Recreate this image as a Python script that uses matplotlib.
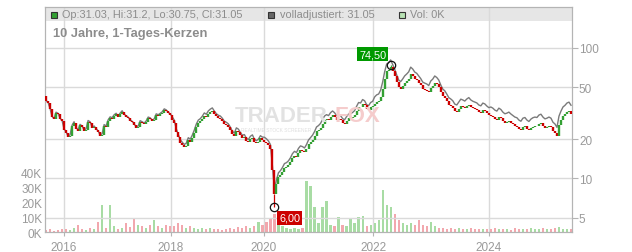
import numpy as np
import matplotlib.pyplot as plt
from matplotlib.patches import Rectangle

plt.rcParams['font.family'] = ['Liberation Sans', 'DejaVu Sans']

# Schlusskurse, ein Wert je Kerze (gleichmäßig über den Chart verteilt)
close = [39.2, 37.8, 34.0, 29.5, 28.5, 31.8, 31.2, 28.6, 27.5, 23.5,
         22.3, 20.6, 21.1, 25.0, 26.6, 24.0, 23.1, 25.4, 24.7, 22.9,
         23.5, 27.2, 26.6, 24.1, 24.7, 23.6, 22.7, 21.0, 21.5, 25.3,
         24.7, 27.5, 29.0, 28.6, 30.1, 30.9, 29.5, 31.0, 32.3, 30.5,
         29.5, 28.9, 27.5, 26.8, 25.6, 24.3, 24.7, 27.1, 26.6, 26.0,
         27.0, 28.9, 28.5, 27.4, 28.0, 30.6, 30.1, 30.9, 31.7, 33.4,
         32.8, 31.5, 30.6, 28.2, 26.6, 22.8, 20.7, 18.8, 18.0, 17.3,
         17.7, 19.5, 19.0, 20.4, 22.3, 24.8, 26.6, 27.3, 28.5, 30.2,
         29.5, 31.3, 32.3, 33.0, 31.2, 29.8, 29.0, 28.6, 27.5, 26.1,
         25.6, 24.9, 23.5, 21.9, 21.1, 23.2, 22.7, 21.4, 20.4, 20.6,
         19.3, 18.9, 20.0, 20.5, 19.0, 18.5, 19.0, 20.2, 19.7, 19.1,
         18.6, 17.9, 16.8, 11.5, 7.6, 9.0, 10.2, 10.6, 11.2, 12.0,
         12.2, 12.6, 13.3, 14.3, 14.9, 14.6, 15.7, 16.4, 16.2, 15.8,
         16.8, 18.2, 19.0, 19.8, 21.1, 22.9, 23.5, 24.4, 26.1, 27.8,
         28.5, 28.0, 29.5, 30.4, 29.5, 28.0, 28.5, 28.0, 26.6, 26.0,
         27.5, 28.8, 29.0, 29.6, 30.6, 33.0, 35.3, 35.0, 37.2, 36.4,
         34.0, 33.4, 35.3, 36.0, 37.2, 38.6, 39.2, 42.0, 48.4, 58.0,
         66.6, 68.0, 71.6, 66.0, 60.8, 55.0, 50.2, 48.8, 51.1, 54.0,
         55.8, 58.0, 63.0, 61.0, 57.8, 56.5, 53.9, 51.5, 48.4, 47.5,
         46.8, 45.5, 49.3, 51.0, 53.9, 52.5, 50.2, 46.0, 42.8, 41.5,
         39.2, 36.8, 35.9, 34.8, 32.8, 32.3, 34.0, 35.8, 35.3, 34.6,
         35.9, 36.8, 35.3, 34.5, 34.0, 33.5, 32.3, 31.8, 33.4, 32.9,
         31.7, 30.8, 30.1, 29.5, 28.5, 28.0, 29.5, 28.8, 27.5, 26.7,
         27.0, 27.5, 26.6, 25.9, 25.2, 24.9, 23.9, 23.4, 24.7, 25.0,
         23.9, 23.3, 24.3, 24.9, 25.2, 25.0, 26.1, 26.5, 25.2, 24.4,
         24.7, 25.2, 24.7, 23.0, 22.3, 21.0, 25.6, 28.0, 30.1, 31.0,
         32.3, 32.8, 31.05]
first_open = 43.0

# Volumen in Tausend, ein Balken je zweiter Kerze
volume = [1.5, 2, 1, 1.5, 2.5, 2, 1.5, 3, 5, 2,
          1.5, 3, 2.5, 7, 18, 3, 18, 4, 2, 3,
          6, 3.5, 9.5, 5, 4, 3, 5, 8, 4, 3,
          5, 4, 4.5, 6, 5, 3, 4, 3, 2.5, 3,
          2, 3, 2, 2.5, 1.5, 2, 3, 2.5, 3.5, 3,
          4, 3, 4, 7, 5, 7, 9, 12, 6, 4,
          3, 2.5, 3, 2, 3, 34, 31, 17, 6, 17,
          21, 5, 4, 10, 5, 4, 9, 6, 10, 11,
          4, 5, 6, 8, 28, 18, 17, 12, 8, 6,
          5, 6, 5, 8, 5, 4, 7, 4, 3, 3,
          2.5, 3, 2, 3, 2.5, 2, 3, 2, 2.5, 2,
          2, 2.5, 3, 2, 2.5, 2, 1.5, 3, 2, 2.5,
          2, 3, 2.5, 2, 3, 2.5, 2, 3, 3.5, 2.5,
          2, 2]

# Jahres-Ticks (Kerzenindex) und Verhältnis volladjustiert/Schluss je Abschnitt
year_labels = ['2016', '2018', '2020', '2022', '2024']
year_pos = [9.0, 62.4, 108.8, 163.2, 221.1]
adj_ratio = [1.01, 1.02, 1.05, 1.08, 1.13, 1.17]

price_ticks = [5, 10, 20, 50, 100]
vol_ticks = [0, 10, 20, 30, 40]

hi_idx, hi_val = 172, 74.50
lo_idx, lo_val = 114, 6.00

close = np.array(close)
n = len(close)
opens = np.concatenate([[first_open], close[:-1]])
idx = np.arange(n)
up = close >= opens
seg = np.searchsorted(year_pos, idx, side='right')
adjusted = close * np.array(adj_ratio)[seg]
vol_idx = idx[::2][:len(volume)]

W, H = 632, 253
fig = plt.figure(figsize=(W / 100, H / 100), dpi=100)
left, right, top, bottom = 45, 572, 8, 233.3
ax_vol = fig.add_axes([left / W, 1 - bottom / H, (right - left) / W, (bottom - top) / H])
ax_p = ax_vol.twinx()

grid_c = '#dadada'
spine_c = '#b4b4b4'
lab_c = '#9a9a9a'

# Kopfzeile
ax_vol.add_patch(Rectangle((0, 1 - 14 / (bottom - top)), 1, 14 / (bottom - top),
                           transform=ax_vol.transAxes, fc='#e6e6e6', ec='none', zorder=0.8))

# Volumen
vol_cols = np.where(up[vol_idx], '#a8dca4', '#f2a8ae')
ax_vol.bar(vol_idx, volume, width=1.1, color=vol_cols, zorder=2)
ax_vol.set_xlim(-0.5, n - 0.5)
ax_vol.set_ylim(0, 150)
ax_vol.set_yticks(vol_ticks, [f'{v}K' for v in vol_ticks])
ax_vol.set_xticks(year_pos, year_labels)
ax_vol.grid(axis='x', color=grid_c, lw=1)
ax_vol.tick_params(axis='y', length=0, pad=2, labelsize=8.5, labelcolor=lab_c)
ax_vol.tick_params(axis='x', length=3, color=spine_c, pad=3, labelsize=8.5, labelcolor=lab_c)

# Kurs
ax_p.set_yscale('log')
ax_p.set_ylim(3.85, 206)
ax_p.set_yticks(price_ticks, [str(t) for t in price_ticks])
ax_p.yaxis.set_minor_locator(plt.NullLocator())
ax_p.grid(axis='y', color=grid_c, lw=1, zorder=0)
ax_p.tick_params(axis='y', length=4, color=spine_c, pad=1, labelsize=8.5, labelcolor=lab_c)

ax_p.plot(idx, adjusted, color='#7a7a7a', lw=1.0, zorder=2)
cols = np.where(up, '#33a033', '#cc0000')
ax_p.vlines(idx, np.minimum(opens, close), np.maximum(opens, close), colors=cols, lw=1.7, zorder=3)
ax_p.vlines([lo_idx], [lo_val], [min(opens[lo_idx], close[lo_idx])], colors=cols[lo_idx], lw=0.9, zorder=3)
ax_p.vlines([hi_idx], [max(opens[hi_idx], close[hi_idx])], [hi_val], colors=cols[hi_idx], lw=0.9, zorder=3)

for i, v, off, fc in [(hi_idx, hi_val, (-13, 7.5), '#009900'), (lo_idx, lo_val, (11, -7.5), '#cc0000')]:
    ax_p.plot(i, v, 'o', mfc='none', mec='#111111', ms=6, mew=0.9, zorder=5)
    ax_p.annotate(f'{v:.2f}'.replace('.', ','), xy=(i, v), xytext=off, textcoords='offset points',
                  ha='center', va='center', color='white', fontsize=7.8, zorder=6,
                  bbox=dict(boxstyle='square,pad=0.18', fc=fc, ec='none'))

for a in (ax_vol, ax_p):
    for s in a.spines.values():
        s.set_color(spine_c)

# Wasserzeichen
fig.text(235 / W, 1 - 116 / H, 'TRADER', fontsize=16, fontweight='bold', color='#e2e2e2',
         va='center', ha='left', zorder=1)
fig.text(334 / W, 1 - 116 / H, 'FOX', fontsize=16, fontweight='bold', color='#f5cccc',
         va='center', ha='left', zorder=1)
fig.text(241 / W, 1 - 131 / H, 'REALTIME STOCK SCREENER', fontsize=3.5, color='#dedede',
         va='center', ha='left', zorder=1)

# Legende in der Kopfzeile
legend = [(51, '#33a033', 'Op:31.03, Hi:31.2, Lo:30.75, Cl:31.05'),
          (268, '#666666', 'volladjustiert: 31.05'),
          (399, '#b8e2b4', 'Vol: 0K')]
for x, fc, txt in legend:
    fig.patches.append(Rectangle((x / W, 1 - 18.5 / H), 6 / W, 6 / H, transform=fig.transFigure,
                                 fc=fc, ec='#333333', lw=0.8, figure=fig))
    fig.text((x + 11.5) / W, 1 - 15.3 / H, txt, fontsize=7.8, color='#8c8c8c', va='center', ha='left')

fig.text(53 / W, 1 - 34 / H, '10 Jahre, 1-Tages-Kerzen', fontsize=9.3, fontweight='bold',
         color='#8c8c8c', va='center', ha='left')

fig.savefig('out.png', dpi=100)
